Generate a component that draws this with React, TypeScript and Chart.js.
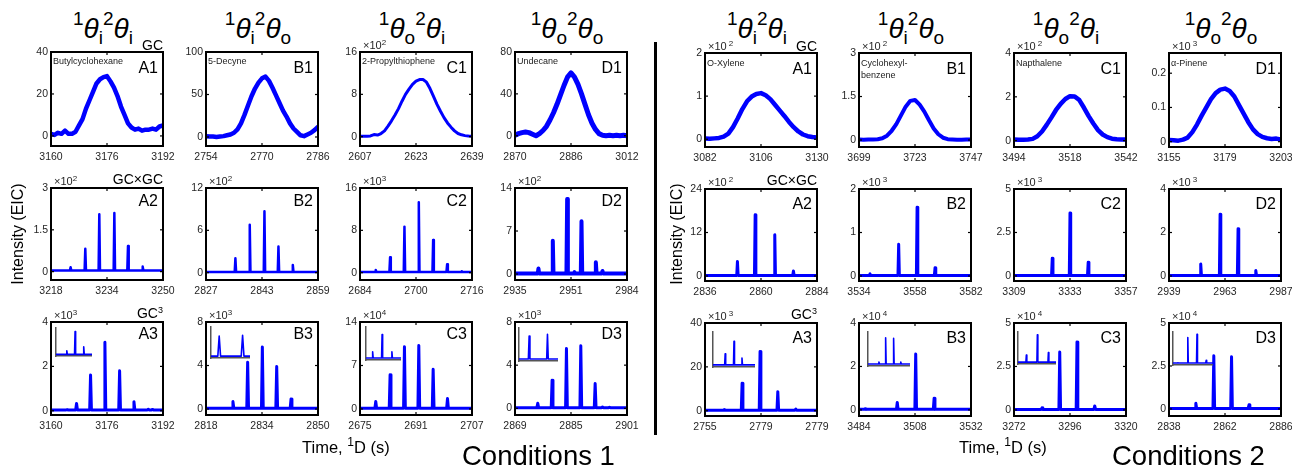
import React, { useEffect, useRef } from "react";
import { Chart, registerables } from "chart.js";
Chart.register(...registerables);

const FONT = '"Liberation Sans", Arial, Helvetica, sans-serif';
const BLUE = "#0000ff";
const INK = "#262626";

// ================= DATA =================
// ---- Conditions 1, GC (row 1) : sampled profiles ----
const c1A1_t = [3160,3161,3162,3163,3164,3165,3166,3167,3168,3169,3170,3171,3172,3173,3174,3175,3176,3177,3178,3179,3180,3181,3182,3183,3184,3185,3186,3187,3188,3189,3190,3191,3192];
const c1A1_v = [1,0.5,1.5,1,2.5,1,1,2,5,8,13,17,21,25,27,28,28.5,26,23,19,14,10,6,4,3,3.5,2.5,3,3,3.5,3,4.5,5];
const c1B1_t = [2754,2755,2756,2757,2758,2759,2760,2761,2762,2763,2764,2765,2766,2767,2768,2769,2770,2771,2772,2773,2774,2775,2776,2777,2778,2779,2780,2781,2782,2783,2784,2785,2786];
const c1B1_v = [1,0.5,0.5,0,0.5,1,2,3,5,9,16,26,37,48,57,64,69,71,66,58,49,40,31,24,16,10,6,2,1,3,5,8,12];
const c1C1_t = [2607,2608,2609,2610,2611,2612,2613,2614,2615,2616,2617,2618,2619,2620,2621,2622,2623,2624,2625,2626,2627,2628,2629,2630,2631,2632,2633,2634,2635,2636,2637,2638,2639];
const c1C1_v = [0.1,0.1,0.1,0.15,0.4,0.3,0.6,1.1,2.0,3.0,4.1,5.3,6.7,8.0,9.0,9.9,10.5,10.8,10.8,10.3,9.1,7.6,6.1,4.8,3.6,2.6,1.8,1.1,0.6,0.35,0.2,0.12,0.1];
const c1D1_t = [2870,2871,2872,2873,2874,2875,2876,2877,2878,2879,2880,2881,2882,2883,2884,2885,2886,2887,2888,2889,2890,2891,2892,2893,2894,2895,2896,2897,2898,2899,2900,2901,2902];
const c1D1_v = [0.5,2,3,3.5,3,1.5,0,2,5,9,15,22,30,39,48,56,60,56,49,40,30,20,12,6,2,0.5,0,0.5,0,0.5,0,0.5,0];

// ---- Conditions 2, GC (row 1) ----
const c2A1_t = [3082,3084,3086,3088,3090,3092,3094,3096,3098,3100,3102,3104,3106,3108,3110,3112,3114,3116,3118,3120,3122,3124,3126,3128,3130];
const c2A1_v = [0.02,0.01,0.02,0.03,0.06,0.13,0.28,0.48,0.7,0.88,0.99,1.05,1.07,1.02,0.93,0.8,0.67,0.54,0.4,0.28,0.18,0.11,0.07,0.05,0.04];
const c2B1_t = [3699,3701,3703,3705,3707,3709,3711,3713,3715,3717,3719,3721,3723,3725,3727,3729,3731,3733,3735,3737,3739,3741,3743,3745,3747];
const c2B1_v = [0.02,0.01,0.02,0.02,0.03,0.06,0.15,0.32,0.55,0.85,1.15,1.35,1.38,1.22,0.98,0.68,0.4,0.2,0.08,0.03,0.02,0.01,0.01,0.02,0.02];
const c2C1_t = [3494,3496,3498,3500,3502,3504,3506,3508,3510,3512,3514,3516,3518,3520,3522,3524,3526,3528,3530,3532,3534,3536,3538,3540,3542];
const c2C1_v = [0.05,0.04,0.04,0.05,0.08,0.2,0.42,0.72,1.05,1.4,1.68,1.9,2.03,2.02,1.85,1.5,1.12,0.78,0.48,0.28,0.16,0.09,0.06,0.05,0.05];
const c2D1_t = [3155,3157,3159,3161,3163,3165,3167,3169,3171,3173,3175,3177,3179,3181,3183,3185,3187,3189,3191,3193,3195,3197,3199,3201,3203];
const c2D1_v = [0.005,0.004,0.003,0.006,0.012,0.028,0.05,0.076,0.1,0.124,0.142,0.152,0.155,0.148,0.132,0.107,0.082,0.057,0.036,0.022,0.014,0.01,0.008,0.009,0.006];

// ---- GCxGC and GC3 peaks: apex times and heights ----
const c1A2_pk = [3223.6, 3227.8, 3231.8, 3236.1, 3240.0, 3244.2];
const c1A2_h = [0.16, 0.82, 2.06, 2.1, 0.92, 0.18];
const c1B2_pk = [2831.0, 2835.4, 2839.5, 2843.7, 2847.7, 2851.8];
const c1B2_h = [0.1, 2.04, 6.8, 8.7, 3.7, 1.1];
const c1C2_pk = [2688.5, 2692.6, 2696.7, 2700.8, 2704.9, 2708.9, 2713.1];
const c1C2_h = [0.5, 2.9, 8.7, 13.3, 6.2, 1.6, 0.25];
const c1D2_pk = [2941.7, 2945.8, 2949.9, 2952.0, 2954.0, 2958.1, 2960.0];
const c1D2_h = [0.9, 5.4, 12.2, 0.3, 8.6, 1.9, 0.5];
const c1A3_pk = [3164.6, 3167.3, 3171.3, 3175.4, 3179.6, 3183.7, 3187.8, 3189.0];
const c1A3_h = [0.05, 0.33, 1.61, 3.09, 1.8, 0.41, 0.07, 0.06];
const c1B3_pk = [2825.7, 2829.9, 2834.1, 2838.2, 2842.3];
const c1B3_h = [0.68, 4.3, 5.7, 3.9, 0.93];
const c1C3_pk = [2679.5, 2683.6, 2687.7, 2691.8, 2695.9, 2700.0];
const c1C3_h = [1.2, 5.5, 10.0, 10.2, 6.4, 1.67];
const c1D3_pk = [2872.5, 2875.5, 2879.6, 2883.7, 2887.8, 2891.9, 2894.0, 2896.0];
const c1D3_h = [0.05, 0.47, 2.6, 5.55, 5.8, 2.3, 0.12, 0.1];

const c2A2_pk = [2849.9, 2857.5, 2865.9, 2873.9];
const c2A2_h = [4.0, 16.9, 11.4, 1.4];
const c2B2_pk = [3538.7, 3551.0, 3558.9, 3566.6];
const c2B2_h = [0.05, 0.73, 1.58, 0.19];
const c2C2_pk = [3325.4, 3333.0, 3340.8];
const c2C2_h = [1.02, 3.62, 0.79];
const c2D2_pk = [2952.6, 2960.9, 2968.6, 2976.2];
const c2D2_h = [0.55, 2.84, 2.17, 0.25];
const c2A3_pk = [2763.2, 2770.9, 2778.6, 2786.2, 2793.9];
const c2A3_h = [0.5, 12.5, 27.0, 8.7, 0.8];
const c2B3_pk = [3486.6, 3500.4, 3508.3, 3516.2];
const c2B3_h = [0.05, 0.34, 2.57, 0.54];
const c2C3_pk = [3284.0, 3291.6, 3299.0, 3306.6];
const c2C3_h = [0.12, 3.33, 3.9, 0.23];
const c2D3_pk = [2849.5, 2857.2, 2864.8, 2872.3];
const c2D3_h = [0.33, 3.1, 3.04, 0.24];

// ---- inset (relative) peaks ----
const c1A3_in_pk = [0.3, 0.53, 0.77];
const c1A3_in_h = [0.15, 0.84, 0.29];
const c1B3_in_pk = [0.21, 0.81];
const c1B3_in_h = [0.67, 0.7];
const c1C3_in_pk = [0.19, 0.46, 0.74];
const c1C3_in_h = [0.21, 0.74, 0.21];
const c1D3_in_pk = [0.26, 0.73];
const c1D3_in_h = [0.72, 0.78];
const c2A3_in_pk = [0.29, 0.5, 0.69];
const c2A3_in_h = [0.34, 0.7, 0.22];
const c2B3_in_pk = [0.26, 0.42, 0.61, 0.78];
const c2B3_in_h = [0.08, 0.8, 0.78, 0.08];
const c2C3_in_pk = [0.22, 0.51, 0.8];
const c2C3_in_h = [0.24, 0.88, 0.32];
const c2D3_in_pk = [0.12, 0.37, 0.6, 0.83];
const c2D3_in_h = [0.03, 0.8, 0.9, 0.1];

// ---- x tick labels ----
const c1A1_xl = ["3160", "3176", "3192"];
const c1B1_xl = ["2754", "2770", "2786"];
const c1C1_xl = ["2607", "2623", "2639"];
const c1D1_xl = ["2870", "2886", "3012"];
const c1A2_xl = ["3218", "3234", "3250"];
const c1B2_xl = ["2827", "2843", "2859"];
const c1C2_xl = ["2684", "2700", "2716"];
const c1D2_xl = ["2935", "2951", "2984"];
const c1A3_xl = ["3160", "3176", "3192"];
const c1B3_xl = ["2818", "2834", "2850"];
const c1C3_xl = ["2675", "2691", "2707"];
const c1D3_xl = ["2869", "2885", "2901"];
const c2A1_xl = ["3082", "3106", "3130"];
const c2B1_xl = ["3699", "3723", "3747"];
const c2C1_xl = ["3494", "3518", "3542"];
const c2D1_xl = ["3155", "3179", "3203"];
const c2A2_xl = ["2836", "2860", "2884"];
const c2B2_xl = ["3534", "3558", "3582"];
const c2C2_xl = ["3309", "3333", "3357"];
const c2D2_xl = ["2939", "2963", "2987"];
const c2A3_xl = ["2755", "2779", "2779"];
const c2B3_xl = ["3484", "3508", "3532"];
const c2C3_xl = ["3272", "3296", "3320"];
const c2D3_xl = ["2838", "2862", "2886"];

// ---- y ticks ----
const c1A1_yt = [0, 20, 40];
const c1B1_yt = [0, 50, 100];
const c1C1_yt = [0, 8, 16];
const c1D1_yt = [0, 40, 80];
const c1A2_yt = [0, 1.5, 3];
const c1B2_yt = [0, 6, 12];
const c1C2_yt = [0, 8, 16];
const c1D2_yt = [0, 7, 14];
const c1A3_yt = [0, 2, 4];
const c1B3_yt = [0, 4, 8];
const c1C3_yt = [0, 7, 14];
const c1D3_yt = [0, 4, 8];
const c2A1_yt = [0, 1, 2];
const c2B1_yt = [0, 1.5, 3];
const c2C1_yt = [0, 2, 4];
const c2D1_yt = [0, 0.1, 0.2];
const c2A2_yt = [0, 12, 24];
const c2B2_yt = [0, 1, 2];
const c2C2_yt = [0, 2.5, 5];
const c2D2_yt = [0, 2, 4];
const c2A3_yt = [0, 20, 40];
const c2B3_yt = [0, 2, 4];
const c2C3_yt = [0, 2.5, 5];
const c2D3_yt = [0, 2.5, 5];

const COL_TITLES = [["i", "i"], ["i", "o"], ["o", "i"], ["o", "o"]];
const ROW_TAGS = ["GC", "GC×GC", "GC"];

// ================= LAYOUT =================
const COL_X = [[51, 206, 360, 515], [705, 859, 1014, 1169]];
const ROW_Y = [[52, 188, 322], [53, 189, 323]];
const ROW_H = [94, 92, 93];
const BOX_W = 112;
const AX_W = 40, AX_H = 24, PAD_T = 14, PAD_R = 16;

type Pt = { x: number; y: number };
function profile(t: number[], v: number[]): Pt[] {
  return t.map((x, i) => ({ x, y: v[i] }));
}
function peakTrace(x0: number, x1: number, pos: number[], h: number[], w: number, base: number): Pt[] {
  const pts: Pt[] = [{ x: x0, y: base }];
  pos.forEach((p, i) => {
    pts.push({ x: p - w, y: base }, { x: p, y: h[i] }, { x: p + w, y: base });
  });
  pts.push({ x: x1, y: base });
  return pts.sort((a, b) => a.x - b.x);
}

type PanelDef = {
  half: number; row: number; col: number; id: string;
  xl: string[]; yt: number[]; yMin: number; yMax: number;
  mult?: string; name?: string; pts: Pt[]; lw: number;
  inset?: Pt[]; insetRect?: number[];
};

function xr(xl: string[]) {
  const a = Number(xl[0]);
  const s = Number(xl[1]) - a;
  return [a, a + s, a + 2 * s];
}
function pk(xl: string[], pos: number[], h: number[], w: number, base: number) {
  const v = xr(xl);
  return peakTrace(v[0], v[2], pos, h, w, base);
}
function ins(pos: number[], h: number[], w: number) {
  return peakTrace(0, 1, pos, h, w, 0.02);
}

const PANELS: PanelDef[] = [
  { half: 0, row: 0, col: 0, id: "A1", xl: c1A1_xl, yt: c1A1_yt, yMin: -4.8, yMax: 40, name: "Butylcyclohexane", pts: profile(c1A1_t, c1A1_v), lw: 4.5 },
  { half: 0, row: 0, col: 1, id: "B1", xl: c1B1_xl, yt: c1B1_yt, yMin: -10.6, yMax: 100, name: "5-Decyne", pts: profile(c1B1_t, c1B1_v), lw: 4.5 },
  { half: 0, row: 0, col: 2, id: "C1", xl: c1C1_xl, yt: c1C1_yt, yMin: -1.76, yMax: 16, mult: "2", name: "2-Propylthiophene", pts: profile(c1C1_t, c1C1_v), lw: 3 },
  { half: 0, row: 0, col: 3, id: "D1", xl: c1D1_xl, yt: c1D1_yt, yMin: -9.8, yMax: 80, name: "Undecane", pts: profile(c1D1_t, c1D1_v), lw: 5 },
  { half: 0, row: 1, col: 0, id: "A2", xl: c1A2_xl, yt: c1A2_yt, yMin: -0.3, yMax: 3, mult: "2", pts: pk(c1A2_xl, c1A2_pk, c1A2_h, 0.2, 0.04), lw: 2.5 },
  { half: 0, row: 1, col: 1, id: "B2", xl: c1B2_xl, yt: c1B2_yt, yMin: -1.04, yMax: 12, mult: "2", pts: pk(c1B2_xl, c1B2_pk, c1B2_h, 0.2, 0.1), lw: 2.5 },
  { half: 0, row: 1, col: 2, id: "C2", xl: c1C2_xl, yt: c1C2_yt, yMin: -1.38, yMax: 16, mult: "3", pts: pk(c1C2_xl, c1C2_pk, c1C2_h, 0.2, 0.15), lw: 2.5 },
  { half: 0, row: 1, col: 3, id: "D2", xl: c1D2_xl, yt: c1D2_yt, yMin: -0.97, yMax: 14, mult: "2", pts: pk(c1D2_xl, c1D2_pk, c1D2_h, 0.2, 0.1), lw: 4 },
  { half: 0, row: 2, col: 0, id: "A3", xl: c1A3_xl, yt: c1A3_yt, yMin: -0.19, yMax: 4, mult: "3", pts: pk(c1A3_xl, c1A3_pk, c1A3_h, 0.25, 0.04), lw: 3, inset: ins(c1A3_in_pk, c1A3_in_h, 0.015), insetRect: [5, 5, 36, 29] },
  { half: 0, row: 2, col: 1, id: "B3", xl: c1B3_xl, yt: c1B3_yt, yMin: -0.55, yMax: 8, mult: "3", pts: pk(c1B3_xl, c1B3_pk, c1B3_h, 0.25, 0.06), lw: 3, inset: ins(c1B3_in_pk, c1B3_in_h, 0.035), insetRect: [5, 4, 39, 32] },
  { half: 0, row: 2, col: 2, id: "C3", xl: c1C3_xl, yt: c1C3_yt, yMin: -0.97, yMax: 14, mult: "4", pts: pk(c1C3_xl, c1C3_pk, c1C3_h, 0.25, 0.1), lw: 3, inset: ins(c1C3_in_pk, c1C3_in_h, 0.015), insetRect: [6, 4, 35, 34] },
  { half: 0, row: 2, col: 3, id: "D3", xl: c1D3_xl, yt: c1D3_yt, yMin: -0.62, yMax: 8, mult: "3", pts: pk(c1D3_xl, c1D3_pk, c1D3_h, 0.25, 0.06), lw: 3, inset: ins(c1D3_in_pk, c1D3_in_h, 0.02), insetRect: [4, 5, 39, 34] },

  { half: 1, row: 0, col: 0, id: "A1", xl: c2A1_xl, yt: c2A1_yt, yMin: -0.18, yMax: 2, mult: "2", name: "O-Xylene", pts: profile(c2A1_t, c2A1_v), lw: 4.5 },
  { half: 1, row: 0, col: 1, id: "B1", xl: c2B1_xl, yt: c2B1_yt, yMin: -0.24, yMax: 3, mult: "2", name: "Cyclohexyl-\nbenzene", pts: profile(c2B1_t, c2B1_v), lw: 4 },
  { half: 1, row: 0, col: 2, id: "C1", xl: c2C1_xl, yt: c2C1_yt, yMin: -0.29, yMax: 4, mult: "2", name: "Napthalene", pts: profile(c2C1_t, c2C1_v), lw: 4.5 },
  { half: 1, row: 0, col: 3, id: "D1", xl: c2D1_xl, yt: c2D1_yt, yMin: -0.0155, yMax: 0.259, mult: "3", name: "α-Pinene", pts: profile(c2D1_t, c2D1_v), lw: 4.5 },
  { half: 1, row: 1, col: 0, id: "A2", xl: c2A2_xl, yt: c2A2_yt, yMin: -1.38, yMax: 24, mult: "2", pts: pk(c2A2_xl, c2A2_pk, c2A2_h, 0.3, 0.15), lw: 3 },
  { half: 1, row: 1, col: 1, id: "B2", xl: c2B2_xl, yt: c2B2_yt, yMin: -0.115, yMax: 2, mult: "3", pts: pk(c2B2_xl, c2B2_pk, c2B2_h, 0.3, 0.012), lw: 3 },
  { half: 1, row: 1, col: 2, id: "C2", xl: c2C2_xl, yt: c2C2_yt, yMin: -0.29, yMax: 5, mult: "3", pts: pk(c2C2_xl, c2C2_pk, c2C2_h, 0.3, 0.03), lw: 3 },
  { half: 1, row: 1, col: 3, id: "D2", xl: c2D2_xl, yt: c2D2_yt, yMin: -0.23, yMax: 4, mult: "3", pts: pk(c2D2_xl, c2D2_pk, c2D2_h, 0.3, 0.025), lw: 3 },
  { half: 1, row: 2, col: 0, id: "A3", xl: c2A3_xl, yt: c2A3_yt, yMin: -2.4, yMax: 40, mult: "3", pts: pk(c2A3_xl, c2A3_pk, c2A3_h, 0.35, 0.25), lw: 3, inset: ins(c2A3_in_pk, c2A3_in_h, 0.012), insetRect: [8, 8, 42, 36] },
  { half: 1, row: 2, col: 1, id: "B3", xl: c2B3_xl, yt: c2B3_yt, yMin: -0.28, yMax: 4, mult: "4", pts: pk(c2B3_xl, c2B3_pk, c2B3_h, 0.35, 0.025), lw: 3, inset: ins(c2B3_in_pk, c2B3_in_h, 0.012), insetRect: [9, 8, 42, 35] },
  { half: 1, row: 2, col: 2, id: "C3", xl: c2C3_xl, yt: c2C3_yt, yMin: -0.35, yMax: 5, mult: "4", pts: pk(c2C3_xl, c2C3_pk, c2C3_h, 0.35, 0.03), lw: 3, inset: ins(c2C3_in_pk, c2C3_in_h, 0.012), insetRect: [4, 8, 38, 33] },
  { half: 1, row: 2, col: 3, id: "D3", xl: c2D3_xl, yt: c2D3_yt, yMin: -0.41, yMax: 5, mult: "4", pts: pk(c2D3_xl, c2D3_pk, c2D3_h, 0.35, 0.03), lw: 3, inset: ins(c2D3_in_pk, c2D3_in_h, 0.012), insetRect: [4, 8, 40, 34] },
];

// Box + inward ticks (MATLAB style)
const boxPlugin = {
  id: "matBox",
  afterDraw(chart: any) {
    const { ctx, chartArea: a, scales } = chart;
    ctx.save();
    ctx.strokeStyle = "#000";
    ctx.lineWidth = 1.2;
    const tl = 3;
    const line = (x1: number, y1: number, x2: number, y2: number) => {
      ctx.beginPath(); ctx.moveTo(x1, y1); ctx.lineTo(x2, y2); ctx.stroke();
    };
    scales.x.ticks.forEach((t: any) => {
      const px = scales.x.getPixelForValue(t.value);
      line(px, a.bottom, px, a.bottom - tl);
      line(px, a.top, px, a.top + tl);
    });
    scales.y.ticks.forEach((t: any) => {
      const py = scales.y.getPixelForValue(t.value);
      line(a.left, py, a.left + tl, py);
      line(a.right, py, a.right - tl, py);
    });
    ctx.lineWidth = 2;
    ctx.strokeRect(a.left, a.top, a.right - a.left, a.bottom - a.top);
    ctx.restore();
  },
};

function mainConfig(d: PanelDef): any {
  const xv = xr(d.xl);
  const tickFont = { family: FONT, size: 10.5 };
  return {
    type: "line",
    data: {
      datasets: [{
        data: d.pts, borderColor: BLUE, borderWidth: d.lw, pointRadius: 0, tension: 0,
        fill: false, borderJoinStyle: "round", borderCapStyle: "round",
      }],
    },
    options: {
      responsive: false, animation: false, events: [],
      layout: { padding: { top: PAD_T, right: PAD_R, left: 0, bottom: 0 } },
      plugins: { legend: { display: false }, tooltip: { enabled: false } },
      scales: {
        x: {
          type: "linear", min: xv[0], max: xv[2],
          grid: { display: false, drawTicks: false }, border: { display: false },
          afterBuildTicks: (s: any) => { s.ticks = xv.map((v) => ({ value: v })); },
          afterFit: (s: any) => { s.height = AX_H; s.paddingLeft = 0; s.paddingRight = 0; },
          ticks: { autoSkip: false, maxRotation: 0, padding: 5, color: INK, font: tickFont, callback: (_v: any, i: number) => d.xl[i] },
        },
        y: {
          type: "linear", min: d.yMin, max: d.yMax,
          grid: { display: false, drawTicks: false }, border: { display: false },
          afterBuildTicks: (s: any) => { s.ticks = d.yt.map((v) => ({ value: v })); },
          afterFit: (s: any) => { s.width = AX_W; s.paddingTop = 0; s.paddingBottom = 0; },
          ticks: { autoSkip: false, padding: 3, color: INK, font: tickFont, callback: (_v: any, i: number) => String(d.yt[i]) },
        },
      },
    },
    plugins: [boxPlugin],
  };
}

function insetConfig(pts: Pt[]): any {
  return {
    type: "line",
    data: { datasets: [{ data: pts, borderColor: BLUE, borderWidth: 1.6, pointRadius: 0, tension: 0, fill: false, borderJoinStyle: "round" }] },
    options: {
      responsive: false, animation: false, events: [],
      layout: { padding: { top: 0, right: 0, left: 2, bottom: 2 } },
      plugins: { legend: { display: false }, tooltip: { enabled: false } },
      scales: {
        x: {
          type: "linear", min: 0, max: 1, grid: { display: false, drawTicks: false }, ticks: { display: false },
          border: { display: true, color: "#555", width: 1.5 },
          afterFit: (s: any) => { s.height = 0; s.paddingLeft = 0; s.paddingRight = 0; },
        },
        y: {
          type: "linear", min: -0.04, max: 1, grid: { display: false, drawTicks: false }, ticks: { display: false },
          border: { display: true, color: "#555", width: 1.5 },
          afterFit: (s: any) => { s.width = 0; s.paddingTop = 0; s.paddingBottom = 0; },
        },
      },
    },
  };
}

const abs = (o: any): any => ({ position: "absolute", fontFamily: FONT, color: "#000", whiteSpace: "nowrap", ...o });

function Panel({ d }: { d: PanelDef }) {
  const L = COL_X[d.half][d.col];
  const T = ROW_Y[d.half][d.row];
  const H = ROW_H[d.row];
  const ref = useRef<HTMLCanvasElement>(null);
  const iref = useRef<HTMLCanvasElement>(null);
  useEffect(() => {
    const c = new Chart(ref.current as HTMLCanvasElement, mainConfig(d));
    let ic: Chart | null = null;
    if (d.inset && iref.current) ic = new Chart(iref.current, insetConfig(d.inset));
    return () => { c.destroy(); if (ic) ic.destroy(); };
  }, []);
  const cw = AX_W + BOX_W + PAD_R;
  const ch = PAD_T + H + AX_H;
  const ir = d.insetRect;
  const labelTop = d.half === 0 ? [8, 5, 4][d.row] : [8, 7, 7][d.row];
  const tagTop = [-14, -16, -16][d.row];
  return (
    <>
      <canvas ref={ref} width={cw} height={ch} style={{ position: "absolute", left: L - AX_W, top: T - PAD_T, width: cw, height: ch }} />
      {ir && (
        <canvas ref={iref} width={ir[2] + 2} height={ir[3] + 2}
          style={{ position: "absolute", left: L + ir[0] - 2, top: T + ir[1], width: ir[2] + 2, height: ir[3] + 2 }} />
      )}
      <div style={abs({ left: L + BOX_W - 60, width: 55, top: T + labelTop, fontSize: 16, lineHeight: "16px", textAlign: "right" })}>{d.id}</div>
      {d.name && (
        <div style={abs({ left: L + 2, top: T + (d.half === 0 ? 3 : 4), fontSize: 9, lineHeight: "12px", color: "#222", whiteSpace: "pre" })}>{d.name}</div>
      )}
      {d.mult && (
        <div style={abs({ left: L + 3, top: T - 12, fontSize: 11, lineHeight: "11px", color: INK })}>
          ×10<span style={{ fontSize: 8, position: "relative", top: -4, marginLeft: d.half === 1 ? 2 : 0 }}>{d.mult}</span>
        </div>
      )}
      {d.col === 0 && (
        <div style={abs({ left: L + BOX_W - 80, width: 80, top: T + tagTop, fontSize: 14, lineHeight: "14px", textAlign: "right" })}>
          {ROW_TAGS[d.row]}{d.row === 2 && <span style={{ fontSize: 9, position: "relative", top: -5 }}>3</span>}
        </div>
      )}
    </>
  );
}

function Title({ cx, subs }: { cx: number; subs: string[] }) {
  const sup = { fontSize: 19, position: "relative" as const, top: -13 };
  const sub = { fontSize: 19, position: "relative" as const, top: 6 };
  return (
    <div style={abs({ left: cx - 70, width: 140, top: 12, fontSize: 28, lineHeight: "34px", textAlign: "center" })}>
      <span style={sup}>1</span><i>θ</i><span style={sub}>{subs[0]}</span>
      <span style={sup}>2</span><i>θ</i><span style={sub}>{subs[1]}</span>
    </div>
  );
}

export default function App() {
  return (
    <div style={{ position: "fixed", left: 0, top: 0, width: 1292, height: 468, background: "#fff", overflow: "hidden" }}>
      {[0, 1].map((h) => COL_X[h].map((x, c) => <Title key={`t${h}${c}`} cx={x + BOX_W / 2 - 4} subs={COL_TITLES[c]} />))}
      {PANELS.map((d, i) => <Panel key={i} d={d} />)}
      {/* divider */}
      <div style={{ position: "absolute", left: 654, top: 42, width: 2.5, height: 393, background: "#000" }} />
      {/* y labels */}
      {[18, 677].map((cx, i) => (
        <div key={`yl${i}`} style={abs({ left: cx - 100, top: 234 - 10, width: 200, height: 20, lineHeight: "20px", fontSize: 16, textAlign: "center", transform: "rotate(-90deg)" })}>
          Intensity (EIC)
        </div>
      ))}
      {/* x labels */}
      {[302, 959].map((x, i) => (
        <div key={`xl${i}`} style={abs({ left: x, top: 439, fontSize: 16.5, lineHeight: "17px" })}>
          Time, <span style={{ fontSize: 12, position: "relative", top: -7 }}>1</span>D (s)
        </div>
      ))}
      <div style={abs({ left: 462, top: 442, fontSize: 27.5, lineHeight: "28px" })}>Conditions 1</div>
      <div style={abs({ left: 1112, top: 442, fontSize: 27.5, lineHeight: "28px" })}>Conditions 2</div>
    </div>
  );
}
